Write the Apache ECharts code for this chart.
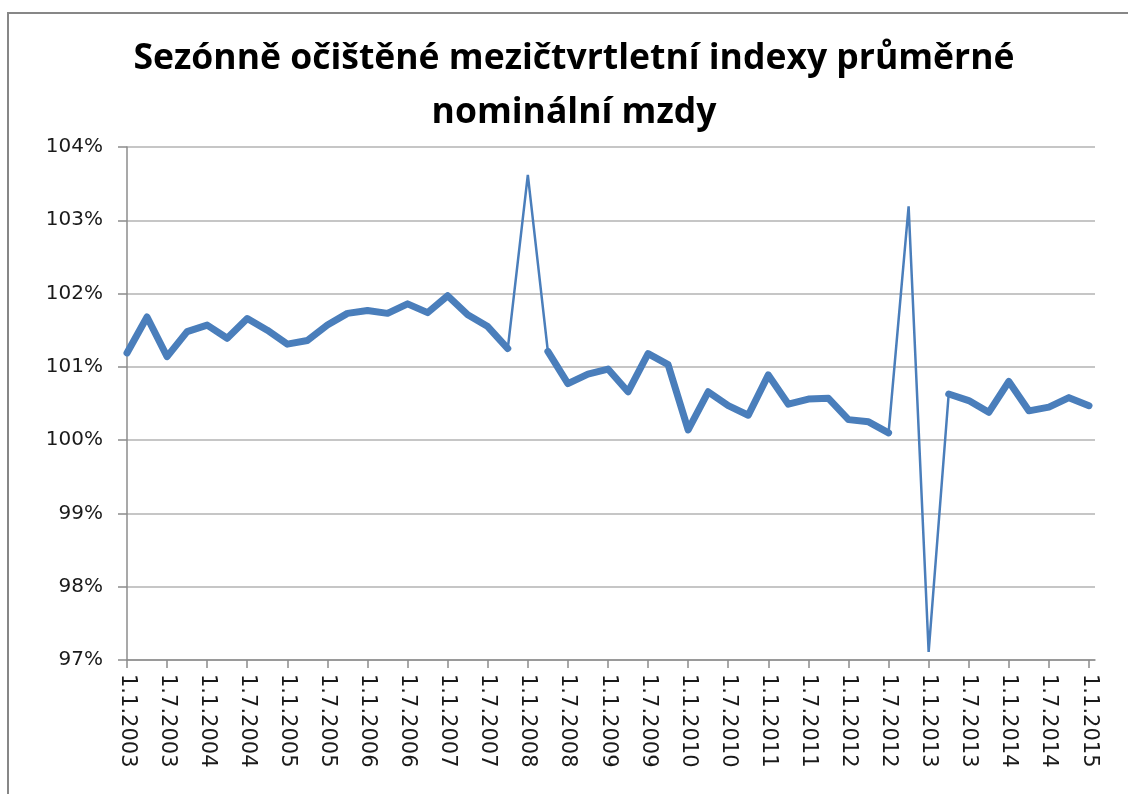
<!DOCTYPE html>
<html>
<head>
<meta charset="utf-8">
<script src="https://cdn.jsdelivr.net/npm/echarts@6/dist/echarts.min.js"></script>
<style>
  html, body { margin: 0; padding: 0; background: #fff; }
  #chart { width: 1128px; height: 794px; }
</style>
</head>
<body>
<div id="chart"></div>
<script>
  // čtvrtletí 1.1.2003 .. 1.1.2015
  const quarters = [
    '1.1.2003', '1.4.2003', '1.7.2003', '1.10.2003',
    '1.1.2004', '1.4.2004', '1.7.2004', '1.10.2004',
    '1.1.2005', '1.4.2005', '1.7.2005', '1.10.2005',
    '1.1.2006', '1.4.2006', '1.7.2006', '1.10.2006',
    '1.1.2007', '1.4.2007', '1.7.2007', '1.10.2007',
    '1.1.2008', '1.4.2008', '1.7.2008', '1.10.2008',
    '1.1.2009', '1.4.2009', '1.7.2009', '1.10.2009',
    '1.1.2010', '1.4.2010', '1.7.2010', '1.10.2010',
    '1.1.2011', '1.4.2011', '1.7.2011', '1.10.2011',
    '1.1.2012', '1.4.2012', '1.7.2012', '1.10.2012',
    '1.1.2013', '1.4.2013', '1.7.2013', '1.10.2013',
    '1.1.2014', '1.4.2014', '1.7.2014', '1.10.2014',
    '1.1.2015'
  ];
  // index v %
  const indexValues = [
    101.19, 101.68, 101.14, 101.48,
    101.57, 101.39, 101.66, 101.50,
    101.31, 101.36, 101.57, 101.73,
    101.77, 101.73, 101.86, 101.74,
    101.97, 101.71, 101.55, 101.25,
    103.62, 101.21, 100.77, 100.90,
    100.97, 100.66, 101.18, 101.03,
    100.14, 100.66, 100.47, 100.34,
    100.89, 100.49, 100.56, 100.57,
    100.28, 100.25, 100.10, 103.19,
    97.11, 100.63, 100.54, 100.38,
    100.80, 100.40, 100.45, 100.58,
    100.47
  ];
  const yTicks = [97, 98, 99, 100, 101, 102, 103, 104];
  // body s výkyvem - kreslí se tenkou čarou
  const spikeIdx = [20, 39, 40];

  const labelIdx = quarters.map((q, i) => i).filter(i => i % 2 === 0);

  const isSpike = i => spikeIdx.indexOf(i) >= 0;
  const thickData = indexValues.map((v, i) => [i, isSpike(i) ? null : v]);
  const thinData = indexValues.map((v, i) =>
    (isSpike(i) || isSpike(i - 1) || isSpike(i + 1)) ? [i, v] : [i, null]);

  const chart = echarts.init(document.getElementById('chart'));
  const option = {
    backgroundColor: '#fff',
    animation: false,
    title: {
      text: 'Sezónně očištěné mezičtvrtletní indexy průměrné\nnominální mzdy',
      left: 574,
      textAlign: 'center',
      top: 32,
      padding: 0,
      textStyle: {
        fontFamily: 'Open Sans',
        fontWeight: 'bold',
        fontSize: 35.5,
        lineHeight: 54,
        color: '#000'
      }
    },
    graphic: [{
      type: 'rect',
      shape: { x: 8, y: 13, width: 1160, height: 820 },
      style: { fill: 'none', stroke: '#878787', lineWidth: 2 },
      silent: true
    }],
    grid: { left: 127, top: 147, right: 33, bottom: 134 },
    xAxis: {
      type: 'value',
      min: 0,
      max: 48.3,
      axisLine: { show: true, lineStyle: { color: '#8c8c8c', width: 1.5 } },
      axisTick: { show: true, length: 8, customValues: labelIdx, lineStyle: { color: '#8c8c8c', width: 1.5 } },
      splitLine: { show: false },
      axisLabel: {
        customValues: labelIdx,
        formatter: v => quarters[Math.round(v)] || '',
        rotate: -90,
        margin: 14,
        fontFamily: 'DejaVu Sans',
        fontSize: 21,
        color: '#1a1a1a'
      }
    },
    yAxis: {
      type: 'value',
      min: yTicks[0],
      max: yTicks[yTicks.length - 1],
      interval: 1,
      axisLine: { show: true, lineStyle: { color: '#8c8c8c', width: 1.5 } },
      axisTick: { show: true, length: 9, lineStyle: { color: '#8c8c8c', width: 1.5 } },
      splitLine: { show: true, lineStyle: { color: '#b3b3b3', width: 1.5 } },
      axisLabel: {
        formatter: v => v + '%',
        margin: 24,
        fontFamily: 'DejaVu Sans',
        fontSize: 20,
        color: '#1a1a1a'
      }
    },
    series: [
      {
        type: 'line',
        data: thinData,
        showSymbol: false,
        connectNulls: false,
        lineStyle: { color: '#4a7ebb', width: 2.5 },
        z: 2
      },
      {
        type: 'line',
        data: thickData,
        showSymbol: false,
        connectNulls: false,
        lineStyle: { color: '#4a7ebb', width: 7, cap: 'round', join: 'round' },
        z: 3
      }
    ]
  };
  chart.setOption(option);
</script>
</body>
</html>
